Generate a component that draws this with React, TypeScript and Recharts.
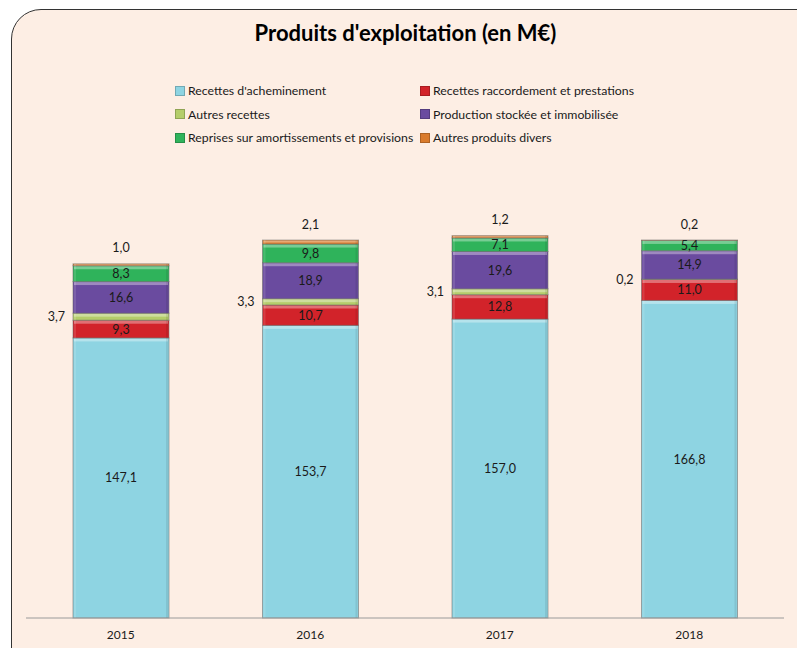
import { BarChart, Bar, XAxis, YAxis, LabelList } from 'recharts';

const years = ['2015', '2016', '2017', '2018'];
const acheminement = [147.1, 153.7, 157.0, 166.8];
const raccordement = [9.3, 10.7, 12.8, 11.0];
const autresRecettes = [3.7, 3.3, 3.1, 0.2];
const production = [16.6, 18.9, 19.6, 14.9];
const reprises = [8.3, 9.8, 7.1, 5.4];
const divers = [1.0, 2.1, 1.2, 0.2];

const series = [
  { key: 'acheminement', name: "Recettes d'acheminement", color: '#8ED4E2', label: 'inside' },
  { key: 'raccordement', name: 'Recettes raccordement et prestations', color: '#D2232A', label: 'inside' },
  { key: 'autresRecettes', name: 'Autres recettes', color: '#B4CD6A', label: 'left' },
  { key: 'production', name: 'Production stockée et immobilisée', color: '#6A4B9F', label: 'inside' },
  { key: 'reprises', name: 'Reprises sur amortissements et provisions', color: '#2FB35B', label: 'inside' },
  { key: 'divers', name: 'Autres produits divers', color: '#DA7B2C', label: 'top' },
];

const data = years.map((year, i) => ({
  year,
  acheminement: acheminement[i],
  raccordement: raccordement[i],
  autresRecettes: autresRecettes[i],
  production: production[i],
  reprises: reprises[i],
  divers: divers[i],
}));

const FONT = 'Lato, "Open Sans", sans-serif';
const fmt = (v: number) => v.toFixed(1).replace('.', ',');

// bevelled segment, roughly like the Excel style
function Segment(props: any) {
  const { x, y, width, height, fill } = props;
  if (!height || height <= 0) return null;
  const hl = Math.min(3, height / 2);
  return (
    <g>
      <rect x={x} y={y} width={width} height={height} fill={fill} stroke="#6a6a6a" strokeOpacity={0.55} strokeWidth={1} />
      <rect x={x + 1} y={y + 0.5} width={width - 2} height={hl} fill="#ffffff" fillOpacity={0.35} />
      <rect x={x + 1} y={y} width={2} height={height} fill="#ffffff" fillOpacity={0.12} />
      <rect x={x + width - 3} y={y} width={2} height={height} fill="#000000" fillOpacity={0.08} />
    </g>
  );
}

function makeLabel(mode: string) {
  return (props: any) => {
    const { x, y, width, height, value } = props;
    let tx = x + width / 2;
    let ty = y + height / 2;
    let anchor: 'middle' | 'end' = 'middle';
    if (mode === 'left') {
      tx = x - 8;
      anchor = 'end';
    } else if (mode === 'top') {
      ty = y - 16;
    }
    return (
      <text x={tx} y={ty} textAnchor={anchor} dominantBaseline="central" fontSize={12.5} fontFamily={FONT} fill="#1a1a1a">
        {fmt(value)}
      </text>
    );
  };
}

function LegendBlock() {
  const rows = [
    [series[0], series[1]],
    [series[2], series[3]],
    [series[4], series[5]],
  ];
  return (
    <div style={{ position: 'absolute', left: 175, top: 79, fontFamily: FONT, fontSize: 12.3, color: '#1a1a1a' }}>
      {rows.map((row, r) => (
        <div key={r} style={{ display: 'flex', height: 23.5, alignItems: 'center' }}>
          {row.map((s, c) => (
            <div key={s.key} style={{ display: 'flex', alignItems: 'center', width: c === 0 ? 245 : 260 }}>
              <span style={{ display: 'inline-block', width: 8, height: 8, background: s.color, marginRight: 3, border: '0.5px solid rgba(0,0,0,0.2)' }} />
              <span>{s.name}</span>
            </div>
          ))}
        </div>
      ))}
    </div>
  );
}

export default function App() {
  return (
    <div style={{ position: 'absolute', left: 0, top: 0, width: 797, height: 648, overflow: 'hidden', background: '#ffffff' }}>
      <div
        style={{
          position: 'absolute',
          left: 11,
          top: 9,
          width: 830,
          height: 700,
          background: '#FDEEE4',
          border: '1.5px solid #333',
          borderRadius: 30,
        }}
      />
      <div
        style={{
          position: 'absolute',
          left: 0,
          width: 797,
          top: 19,
          textAlign: 'center',
          fontFamily: FONT,
          fontWeight: 700,
          fontSize: 22,
          color: '#000',
          paddingLeft: 14,
          boxSizing: 'border-box',
        }}
      >
        Produits d'exploitation (en M€)
      </div>
      <LegendBlock />
      <div style={{ position: 'absolute', left: 0, top: 0 }}>
        <BarChart width={797} height={648} data={data} margin={{ top: 142, right: 13, bottom: 0, left: 26 }}>
          <YAxis hide domain={[0, 250]} />
          <XAxis
            dataKey="year"
            height={30}
            axisLine={{ stroke: '#9a9a9a' }}
            tickLine={false}
            tick={{ fontSize: 12, fontFamily: FONT, fill: '#1a1a1a' }}
            dy={4}
          />
          {series.map((s) => (
            <Bar
              key={s.key}
              dataKey={s.key}
              name={s.name}
              stackId="a"
              fill={s.color}
              barSize={96}
              shape={Segment}
              isAnimationActive={false}
            >
              <LabelList dataKey={s.key} content={makeLabel(s.label)} />
            </Bar>
          ))}
        </BarChart>
      </div>
    </div>
  );
}
